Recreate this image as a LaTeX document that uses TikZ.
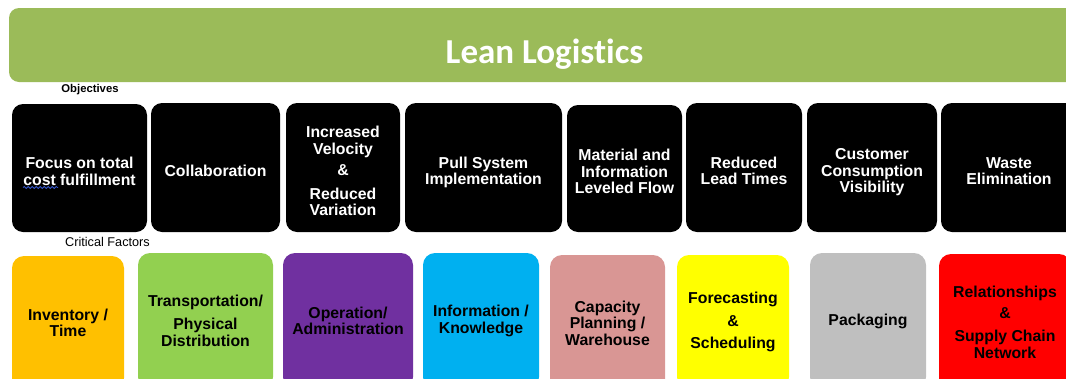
\documentclass[tikz,border=0pt]{standalone}
\usepackage{fontspec}
\setmainfont{Liberation Sans}
\newfontfamily\titlefont[Ligatures=NoCommon]{Carlito}
\usetikzlibrary{decorations.pathmorphing}
\newcommand{\tstr}{\rule{0pt}{21pt}}
\newcommand{\bstr}{\rule[-3.4pt]{0pt}{0pt}}
\definecolor{bannergreen}{HTML}{9BBB59}
\definecolor{cOrange}{HTML}{FFC000}
\definecolor{cGreen}{HTML}{92D050}
\definecolor{cPurple}{HTML}{7030A0}
\definecolor{cBlue}{HTML}{00B0F0}
\definecolor{cPink}{HTML}{D99694}
\definecolor{cYellow}{HTML}{FFFF00}
\definecolor{cGray}{HTML}{BFBFBF}
\definecolor{cRed}{HTML}{FF0000}
\definecolor{squiggle}{HTML}{3355CC}
\tikzset{
  objbox/.style={fill=black, text=white, rounded corners=11pt, inner sep=0pt,
    align=center, minimum height=128pt,
    font=\bfseries\fontsize{15.8}{16.6}\selectfont},
  facbox/.style={rounded corners=12pt, inner sep=0pt, text=black,
    align=center, minimum height=136pt,
    font=\bfseries\fontsize{15.8}{16.6}\selectfont},
  lbl/.style={inner sep=0pt, text=black},
}
\begin{document}
\begin{tikzpicture}[x=1pt,y=-1pt]
\useasboundingbox (0,0) rectangle (1066,378);
\clip (0,0) rectangle (1066,378);
% banner
\node[fill=bannergreen, rounded corners=10pt, minimum width=1071pt, minimum height=74pt,
  inner sep=0pt, text=white, text height=36pt, text depth=0pt,
  font=\titlefont\bfseries\fontsize{35}{40}\selectfont] (banner) at (544.5,45) {Lean Logistics};
% labels
\node[lbl, font=\bfseries\fontsize{11.3}{13}\selectfont] (objlbl) at (90,90) {Objectives};
\node[lbl, font=\fontsize{12.7}{14}\selectfont] (critlbl) at (107.5,242) {Critical Factors};
% objectives
\node[objbox, minimum width=135pt] (o1) at (79.5,168) {\tstr Focus on total\\cost fulfillment\bstr};
\node[objbox, minimum width=129pt, minimum height=129pt] (o2) at (215.5,167.5) {\tstr Collaboration\bstr};
\node[objbox, minimum width=114pt, minimum height=129pt] (o3) at (343,167.5)
  {\tstr Increased\\Velocity\\[5pt]\&\\[7.5pt]Reduced\\[-1.5pt]Variation\bstr};
\node[objbox, minimum width=157pt, minimum height=129pt] (o4) at (483.5,167.5) {\tstr Pull System\\Implementation\bstr};
\node[objbox, minimum width=115pt, minimum height=127pt] (o5) at (624.5,168.5) {\tstr Material and\\Information\\Leveled Flow\bstr};
\node[objbox, minimum width=116pt, minimum height=129pt] (o6) at (744,167.5) {\tstr Reduced\\Lead Times\bstr};
\node[objbox, minimum width=130pt, minimum height=129pt] (o7) at (872,167.5) {\tstr Customer\\Consumption\\Visibility\bstr};
\node[objbox, minimum width=136pt, minimum height=129pt] (o8) at (1009,167.5) {\tstr Waste\\Elimination\bstr};
% spell-check squiggle under "cost"
\coordinate (sqa) at (23,187.5);
\coordinate (sqb) at (58,187.5);
\draw[squiggle, line width=0.8pt, decorate, decoration={snake, amplitude=1pt, segment length=4pt}] (sqa) -- (sqb);
% critical factors
\node[facbox, fill=cOrange, minimum width=112pt, minimum height=134pt] (f1) at (68,323) {Inventory /\\Time};
\node[facbox, fill=cGreen, minimum width=135pt] (f2) at (205.5,321) {Transportation/\\[6.5pt]Physical\\Distribution};
\node[facbox, fill=cPurple, minimum width=130pt] (f3) at (348,321) {Operation/\\Administration};
\node[facbox, fill=cBlue, minimum width=116pt] (f4) at (481,321) {Information /\\Knowledge};
\node[facbox, fill=cPink, minimum width=115pt] (f5) at (607.5,323) {Capacity\\Planning /\\Warehouse};
\node[facbox, fill=cYellow, minimum width=112pt, minimum height=134pt] (f6) at (733,322) {Forecasting\\[6pt]\&\\[5.5pt]Scheduling};
\node[facbox, fill=cGray, minimum width=116pt] (f7) at (868,321) {Packaging};
\node[facbox, fill=cRed, minimum width=132pt] (f8) at (1005,322) {Relationships\\[4.5pt]\&\\[6.5pt]Supply Chain\\Network};
\end{tikzpicture}
\end{document}
